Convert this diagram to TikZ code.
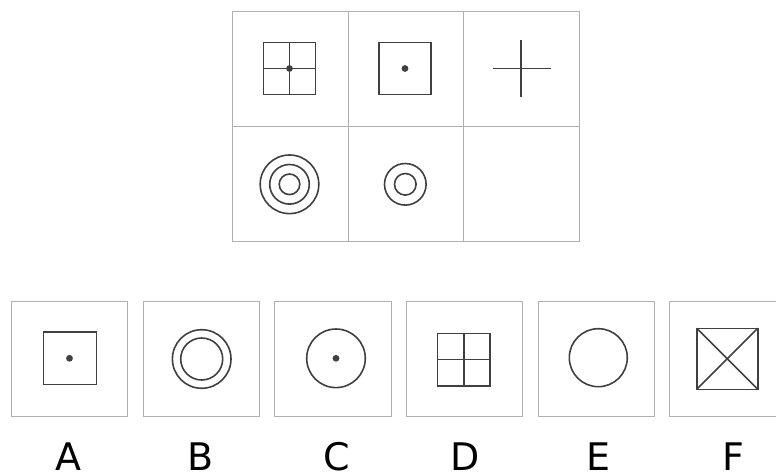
\documentclass[tikz,border=0pt]{standalone}
\usepackage{fontspec}
\setmainfont{DejaVu Sans}
\definecolor{gridgray}{HTML}{B0B0B0}
\definecolor{ink}{HTML}{404040}
\tikzset{
  cell/.style={draw=gridgray, line width=1pt, minimum width=115.6pt, minimum height=115.3pt, inner sep=0pt, outer sep=0pt},
  optbox/.style={draw=gridgray, line width=1pt, minimum width=116.5pt, minimum height=115.7pt, inner sep=0pt, outer sep=0pt},
  fig/.style={draw=ink, line width=1.6pt},
  dotm/.style={fill=ink},
  lbl/.style={font=\fontsize{38}{38}\selectfont, text=black, anchor=base, inner sep=0pt}
}
\begin{document}
\begin{tikzpicture}[x=1pt,y=-1pt]
\useasboundingbox (0,0) rectangle (776,476);
\clip (0,0) rectangle (776,476);
% top grid
\node[cell] (c11) at (290.3,68.85) {};
\node[cell] (c12) at (405.9,68.85) {};
\node[cell] (c13) at (521.5,68.85) {};
\node[cell] (c21) at (290.3,184.15) {};
\node[cell] (c22) at (405.9,184.15) {};
\node[cell] (c23) at (521.5,184.15) {};
% cell 1: square with cross and dot
\draw[fig] (263.5,42.5) rectangle (315.5,94.5);
\draw[fig] (263.5,68.5) -- (315.5,68.5) (289.5,42.5) -- (289.5,94.5);
\fill[dotm] (289.5,68.5) circle (3.4);
% cell 2: square with dot
\draw[fig] (379,42.5) rectangle (431,94.5);
\fill[dotm] (405,68.5) circle (3.4);
% cell 3: cross
\draw[fig] (492.5,68.5) -- (550.5,68.5) (521.2,40) -- (521.2,97.3);
% cell 4: three circles
\draw[fig] (289.5,184.3) circle (29.3) circle (19.8) circle (10.3);
% cell 5: two circles
\draw[fig] (405.3,184.3) circle (20.8) circle (10.8);
% options
\node[optbox] (oA) at (69.6,358.85) {};
\node[optbox] (oB) at (201.6,358.85) {};
\node[optbox] (oC) at (332.9,358.85) {};
\node[optbox] (oD) at (464.7,358.85) {};
\node[optbox] (oE) at (596.5,358.85) {};
\node[optbox] (oF) at (727.5,358.85) {};
% A
\draw[fig] (43.5,331.7) rectangle (96.5,384.3);
\fill[dotm] (69.5,358.3) circle (3.4);
% B
\draw[fig] (201.7,359) circle (29.3) circle (21);
% C
\draw[fig] (336,358.3) circle (29.3);
\fill[dotm] (336,358.3) circle (3.4);
% D
\draw[fig] (437.5,333.3) rectangle (490,385.7);
\draw[fig] (437.5,359.5) -- (490,359.5) (463.7,333.3) -- (463.7,385.7);
% E
\draw[fig] (598.3,357.7) circle (29);
% F
\draw[fig] (696.8,328.3) rectangle (757.8,389.3);
\draw[fig] (696.8,328.3) -- (757.8,389.3) (696.8,389.3) -- (757.8,328.3);
% labels
\node[lbl] (lA) at (68.5,470.5) {A};
\node[lbl] (lB) at (200.5,470.5) {B};
\node[lbl] (lC) at (336.7,470.5) {C};
\node[lbl] (lD) at (465,470.5) {D};
\node[lbl] (lE) at (598.3,470.5) {E};
\node[lbl] (lF) at (733.3,470.5) {F};
\end{tikzpicture}
\end{document}
